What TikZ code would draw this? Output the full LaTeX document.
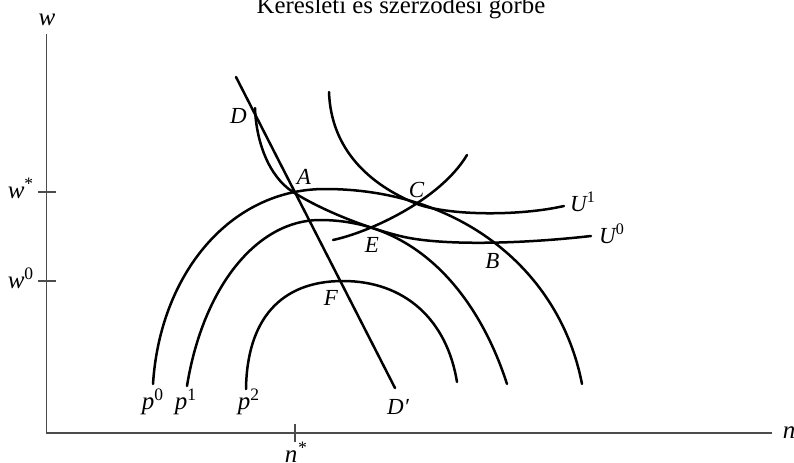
\documentclass[tikz,border=0pt]{standalone}
\usepackage{fontspec}
\setmainfont{Liberation Serif}
\usetikzlibrary{positioning}

\begin{document}
\begin{tikzpicture}[x=0.5pt, y=-0.5pt,
  curve/.style={line width=1.25pt, black, line cap=round},
  axis/.style={line width=0.75pt, black!70},
  lbl/.style={inner sep=0pt, anchor=base, font=\fontsize{11.5}{13}\selectfont\itshape},
  vlbl/.style={inner sep=0pt, anchor=base, font=\fontsize{12.5}{14}\selectfont\itshape}]
\useasboundingbox (0,0) rectangle (794,462);
\node[inner sep=0pt, anchor=base, font=\fontsize{12.4}{14}\selectfont] (title) at (401,13) {Keresleti és szerződési görbe};
% axes and ticks
\coordinate (O) at (46.7,433); \coordinate (ytop) at (46.7,34); \coordinate (xend) at (772,433);
\draw[axis] (ytop) -- (O) -- (xend);
\node[vlbl] (w) at (47,25) {w};
\node[vlbl] (n) at (789,438) {n};
\foreach \y/\b/\s/\nm in {192/198/*/wstar, 281/288/0/wzero} { \draw[axis] (38,\y) -- (56,\y); \node[vlbl] (\nm) at (21,\b) {w\textsuperscript{\upshape\s}}; }
\draw[axis] (295,424) -- (295,442); \node[vlbl] (nstar) at (296,462) {n\textsuperscript{*}};
% demand line D--D'
\coordinate (Dtop) at (236,77); \coordinate (Dbot) at (395,388);
\draw[curve] (Dtop) -- (Dbot);
% isoprofit curves p0, p1, p2
\draw[curve] (153,384) .. controls (160,274) and (230,189) .. (325,189) .. controls (460,189) and (560,270) .. (582,384);
\draw[curve] (187,386) .. controls (203,287) and (257,220) .. (320,220) .. controls (420,220) and (480,300) .. (507,384);
\draw[curve] (246,389) .. controls (247,320) and (280,281) .. (343,281) .. controls (405,281) and (447,320) .. (457,382);
% indifference curves U0 (from D), U1 and the contract curve
\draw[curve] (255,108) .. controls (256,140) and (268,176) .. (293,192) .. controls (318,208) and (360,226) .. (400,236) .. controls (440,246) and (520,244) .. (591,236);
\draw[curve] (329,92) .. controls (331,150) and (370,185) .. (417,204) .. controls (450,216) and (520,216) .. (564,206);
\draw[curve] (333,240) .. controls (370,232) and (440,200) .. (467,155);
% labels
\foreach \x/\y/\l in {238.5/123/D, 304/184/A, 416.5/197/C, 372/252/E, 492.5/268/B, 331/305/F} \node[lbl] (\l) at (\x,\y) {\l};
\node[lbl] (Dprime) at (398,414) {D′};
\foreach \x/\y/\s in {583/211/1, 612/243/0} \node[lbl] (U\s) at (\x,\y) {U\textsuperscript{\upshape\s}};
\foreach \x/\s in {153/0, 186/1, 249/2} \node[vlbl] (p\s) at (\x,409) {p\textsuperscript{\upshape\s}};
\end{tikzpicture}
\end{document}
